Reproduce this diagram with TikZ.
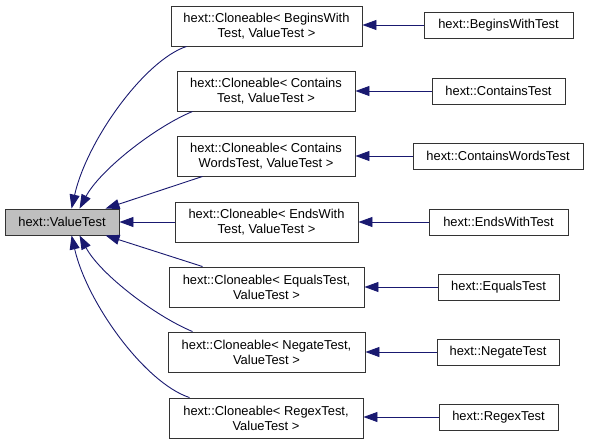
\documentclass[tikz,border=0pt]{standalone}
\usepackage{fontspec}
\setmainfont{Liberation Sans}
\usetikzlibrary{arrows.meta,calc}
\definecolor{edgeblue}{HTML}{191970}
\definecolor{boxgrey}{HTML}{BFBFBF}
\definecolor{boxline}{HTML}{333333}
\begin{document}
\begin{tikzpicture}[x=1pt,y=-1pt,
  cls/.style={draw=boxline,line width=0.9pt,fill=white,inner sep=0pt,align=center,
    font=\fontsize{12.9}{15}\selectfont},
  twoline/.style={cls,minimum height=40pt},
  oneline/.style={cls,minimum height=26pt},
  inh/.style={edgeblue,line width=0.9pt,-{Triangle[length=14pt,width=10pt]}}]
\useasboundingbox (0,0) rectangle (589,444);
% base
\node[oneline,fill=boxgrey,minimum width=114pt] (vt) at (62,222) {hext::ValueTest};
% middle
\node[twoline,minimum width=191pt] (m1) at (266.5,26) {hext::Cloneable< BeginsWith\\Test, ValueTest >};
\node[twoline,minimum width=178pt] (m2) at (266,91) {hext::Cloneable< Contains\\Test, ValueTest >};
\node[twoline,minimum width=178pt] (m3) at (266,156) {hext::Cloneable< Contains\\WordsTest, ValueTest >};
\node[twoline,minimum width=183pt] (m4) at (266.5,222) {hext::Cloneable< EndsWith\\Test, ValueTest >};
\node[twoline,minimum width=195pt] (m5) at (266.5,287) {hext::Cloneable< EqualsTest,\\ValueTest >};
\node[twoline,minimum width=197pt] (m6) at (266.5,352) {hext::Cloneable< NegateTest,\\ValueTest >};
\node[twoline,minimum width=194pt] (m7) at (266,418) {hext::Cloneable< RegexTest,\\ValueTest >};
% right
\node[oneline,minimum width=149pt] (r1) at (498.5,25) {hext::BeginsWithTest};
\node[oneline,minimum width=133pt] (r2) at (498.5,91) {hext::ContainsTest};
\node[oneline,minimum width=170pt] (r3) at (498,156) {hext::ContainsWordsTest};
\node[oneline,minimum width=139pt] (r4) at (498.5,222) {hext::EndsWithTest};
\node[oneline,minimum width=121pt] (r5) at (498.5,287) {hext::EqualsTest};
\node[oneline,minimum width=122pt] (r6) at (498,352) {hext::NegateTest};
\node[oneline,minimum width=119pt] (r7) at (498.5,417) {hext::RegexTest};
% right-to-middle edges
\foreach \i in {1,...,7}{
  \draw[inh] (r\i.west) -- (r\i.west -| m\i.east);
}
% middle-to-base edges
\draw[inh] ($(m1.south west)+(16,0)$) .. controls (145,60) and (87,140) .. ($(vt.north west)+(67,0)$);
\draw[inh] ($(m2.south west)+(16,0)$) .. controls (155,127) and (100,170) .. ($(vt.north west)+(75,0)$);
\draw[inh] ($(m3.south west)+(26,0)$) -- ($(vt.north west)+(101,0)$);
\draw[inh] (m4.west) -- (vt.east);
\draw[inh] ($(m5.north west)+(34,0)$) -- ($(vt.south west)+(101,0)$);
\draw[inh] ($(m6.north west)+(25,0)$) .. controls (155,316) and (100,274) .. ($(vt.south west)+(75,0)$);
\draw[inh] ($(m7.north west)+(21,0)$) .. controls (145,383) and (87,303) .. ($(vt.south west)+(67,0)$);
\end{tikzpicture}
\end{document}
